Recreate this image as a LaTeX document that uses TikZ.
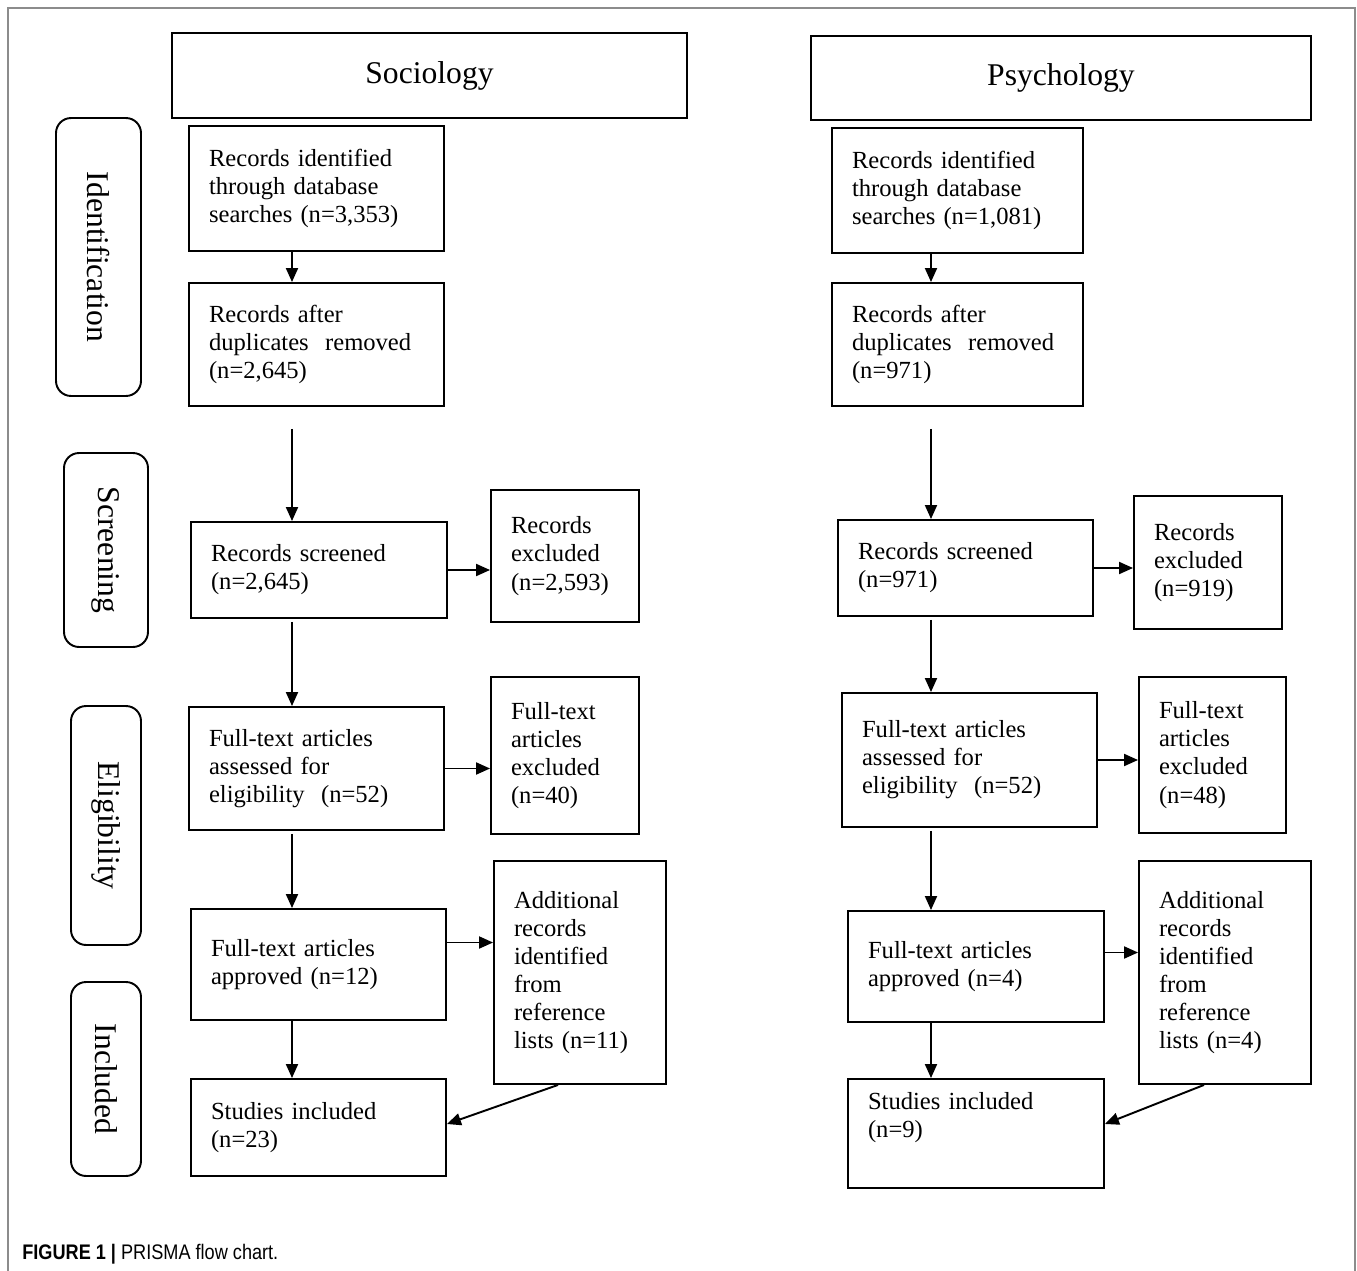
\documentclass[tikz,border=0pt]{standalone}
\usepackage{fontspec}
\setmainfont{Liberation Serif}
\newfontfamily\capfont{Liberation Sans}
\usepackage{tikz}
\usetikzlibrary{arrows.meta, positioning}
\def\boxfont{\fontsize{14}{16}\selectfont}
\def\headfont{\fontsize{18}{22}\selectfont}
\tikzset{
  box/.style={
    rectangle,
    draw=black,
    line width=1.1pt,
    align=left,
    inner xsep=0.4cm,
    font=\boxfont
    },
  head/.style={
    rectangle,
    draw=black,
    line width=1.1pt,
    align=center,
    font=\headfont
    },
  stage/.style={
    rectangle,
    rounded corners=0.3cm,
    draw=black,
    line width=1.1pt,
    rotate=-90,
    align=center,
    font=\headfont
    },
  arrow/.style={line width=1.1pt,-{Triangle[length=0.28cm,width=0.24cm]}},
}

\begin{document}
\begin{tikzpicture}[x=0.02cm, y=-0.02cm]
    \useasboundingbox (0,0) rectangle (1357,1271);
    \draw[black!45, line width=1pt] (8,1271) -- (8,8) -- (1355,8) -- (1355,1271);

    % Stage labels on the left
    \node[stage, minimum width=5.56cm, minimum height=1.7cm] (St-id) at (98.5,257) {Identification};
    \node[stage, minimum width=3.88cm, minimum height=1.68cm] (St-scr) at (106,550) {Screening};
    \node[stage, minimum width=4.78cm, minimum height=1.4cm] (St-el) at (106,825.5) {Eligibility};
    \node[stage, minimum width=3.88cm, minimum height=1.4cm] (St-inc) at (106,1079) {Included};

    % Sociology column
    \node[head, minimum width=10.3cm, minimum height=1.7cm] (S-head) at (429.5,75.5) {Sociology};
    \node[box, text width=4.3cm, minimum height=2.5cm] (S-rec) at (316.5,188.5)
        {Records identified\\through database\\searches (n=3,353)};
    \node[box, text width=4.3cm, minimum height=2.46cm] (S-dup) at (316.5,344.5)
        {Records after\\duplicates\ \ removed\\(n=2,645)};
    \node[box, text width=4.32cm, minimum height=1.92cm] (S-scr) at (319,570)
        {Records screened\\(n=2,645)};
    \node[box, text width=2.16cm, minimum height=2.64cm] (S-exc) at (565,556)
        {Records\\excluded\\(n=2,593)};
    \node[box, text width=4.3cm, minimum height=2.46cm] (S-full) at (316.5,768.5)
        {Full-text articles\\assessed for\\eligibility\ \ (n=52)};
    \node[box, text width=2.16cm, minimum height=3.14cm] (S-fexc) at (565,755.5)
        {Full-text\\articles\\excluded\\(n=40)};
    \node[box, text width=4.3cm, minimum height=2.22cm] (S-appr) at (318.5,964.5)
        {Full-text articles\\approved (n=12)};
    \node[box, text width=2.64cm, minimum height=4.46cm] (S-add) at (580,972.5)
        {Additional\\records\\identified\\from\\reference\\lists (n=11)};
    \node[box, text width=4.3cm, minimum height=1.94cm] (S-inc) at (318.5,1127.5)
        {Studies included\\(n=23)};

    % Psychology column
    \node[head, minimum width=10cm, minimum height=1.68cm] (P-head) at (1061,78) {Psychology};
    \node[box, text width=4.22cm, minimum height=2.5cm] (P-rec) at (957.5,190.5)
        {Records identified\\through database\\searches (n=1,081)};
    \node[box, text width=4.22cm, minimum height=2.46cm] (P-dup) at (957.5,344.5)
        {Records after\\duplicates\ \ removed\\(n=971)};
    \node[box, text width=4.3cm, minimum height=1.92cm] (P-scr) at (965.5,568)
        {Records screened\\(n=971)};
    \node[box, text width=2.16cm, minimum height=2.66cm] (P-exc) at (1208,562.5)
        {Records\\excluded\\(n=919)};
    \node[box, text width=4.3cm, minimum height=2.68cm] (P-full) at (969.5,760)
        {Full-text articles\\assessed for\\eligibility\ \ (n=52)};
    \node[box, text width=2.14cm, minimum height=3.12cm] (P-fexc) at (1212.5,755)
        {Full-text\\articles\\excluded\\(n=48)};
    \node[box, text width=4.32cm, minimum height=2.22cm] (P-appr) at (976,966.5)
        {Full-text articles\\approved (n=4)};
    \node[box, text width=2.64cm, minimum height=4.46cm] (P-add) at (1225,972.5)
        {Additional\\records\\identified\\from\\reference\\lists (n=4)};
    \node[box, text width=4.32cm, minimum height=2.18cm] (P-inc) at (976,1133.5)
        {Studies included\\(n=9)\\\strut};

    % Axes of the vertical arrows
    \coordinate (S-axis) at (292,0);
    \coordinate (P-axis) at (931,0);

    % Connect the boxes of each column
    \foreach \c/\dy/\dx/\dz in {S/0.44cm/-0.44cm/0.07cm, P/0.28cm/-0.42cm/0.19cm} {
        \draw[arrow] (\c-rec.south -| \c-axis) -- (\c-dup.north -| \c-axis);
        \draw[arrow, shorten <=0.44cm] (\c-dup.south -| \c-axis) -- (\c-scr.north -| \c-axis);
        \draw[arrow, shorten <=0.06cm] (\c-scr.south -| \c-axis) -- (\c-full.north -| \c-axis);
        \draw[arrow, shorten <=0.06cm] (\c-full.south -| \c-axis) -- (\c-appr.north -| \c-axis);
        \draw[arrow] (\c-appr.south -| \c-axis) -- (\c-inc.north -| \c-axis);
        \draw[arrow] (\c-scr.east) -- (\c-scr.east -| \c-exc.west);
        \draw[arrow] (\c-full.east) -- (\c-full.east -| \c-fexc.west);
        \draw[arrow] ([yshift=\dy]\c-appr.east) -- ([yshift=\dy]\c-appr.east -| \c-add.west);
        \draw[arrow] ([xshift=\dx]\c-add.south) -- ([yshift=\dz]\c-inc.east);
    }

    % Caption
    \node[anchor=base west, inner sep=0pt, font=\capfont\fontsize{12}{14}\selectfont] (cap) at (22,1259)
        {\scalebox{0.86}[1]{\textbf{FIGURE 1 |} PRISMA flow chart.}};
\end{tikzpicture}
\end{document}
